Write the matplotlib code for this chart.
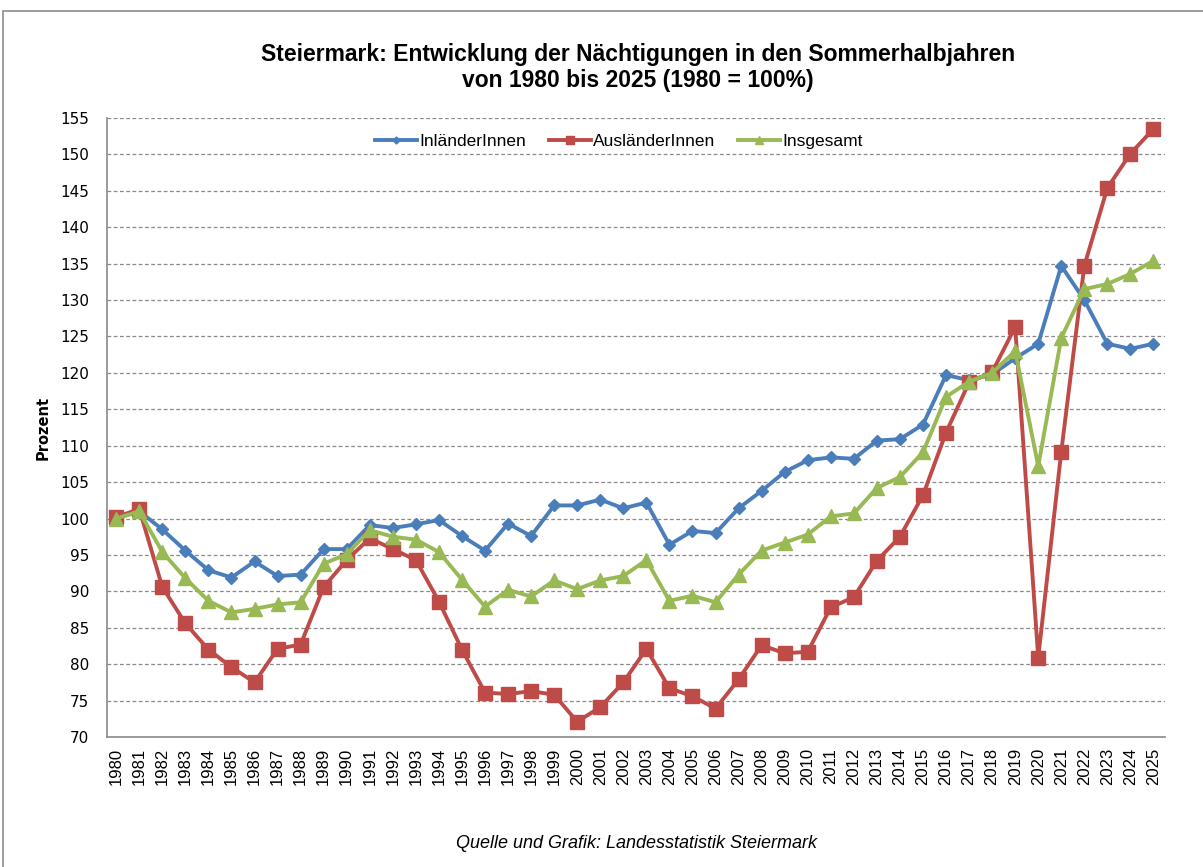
import matplotlib
matplotlib.use("Agg")
import matplotlib.pyplot as plt
from matplotlib.patches import Rectangle

years = list(range(1980, 2026))
inland = [100.0, 101.0, 98.5, 95.6, 92.9, 91.9, 94.1, 92.1, 92.3, 95.8,
          95.8, 99.1, 98.7, 99.2, 99.8, 97.6, 95.6, 99.3, 97.6, 101.8,
          101.8, 102.6, 101.4, 102.2, 96.4, 98.3, 98.0, 101.4, 103.8, 106.4,
          108.0, 108.4, 108.2, 110.7, 110.9, 112.9, 119.7, 119.0, 119.8, 122.0,
          124.0, 134.7, 130.0, 124.0, 123.3, 124.0]
ausland = [100.2, 101.3, 90.6, 85.6, 82.0, 79.6, 77.5, 82.1, 82.7, 90.6,
           94.3, 97.3, 95.8, 94.3, 88.6, 82.0, 76.1, 75.9, 76.3, 75.8,
           72.1, 74.1, 77.5, 82.1, 76.7, 75.6, 73.9, 77.9, 82.6, 81.5,
           81.7, 87.8, 89.2, 94.2, 97.5, 103.2, 111.8, 118.7, 120.1, 126.3,
           80.9, 109.2, 134.7, 145.4, 150.1, 153.5]
insgesamt = [100.0, 101.0, 95.4, 91.8, 88.7, 87.1, 87.6, 88.2, 88.5, 93.8,
             95.1, 98.4, 97.5, 97.1, 95.4, 91.6, 87.9, 90.2, 89.3, 91.5,
             90.3, 91.5, 92.1, 94.3, 88.7, 89.4, 88.5, 92.3, 95.6, 96.7,
             97.8, 100.3, 100.7, 104.2, 105.7, 109.1, 116.7, 118.8, 120.0, 123.0,
             107.2, 124.8, 131.5, 132.2, 133.6, 135.4]
series_names = ["InländerInnen", "AusländerInnen", "Insgesamt"]
yticks = list(range(70, 156, 5))

plt.rcParams['font.family'] = ['Liberation Sans', 'DejaVu Sans']

fig = plt.figure(figsize=(12.03, 8.67), dpi=100)
fig.patches.append(Rectangle((3/1203, -0.05), 1.1, 1 - 11/867 + 0.05,
                             transform=fig.transFigure, fill=False,
                             edgecolor='#8c8c8c', linewidth=1.2))
ax = fig.add_axes([107/1203, 1 - 737/867, (1165-107)/1203, (737-118)/867])

x = list(range(len(years)))
ax.plot(x, inland, color='#4A7EBB', lw=2.8, marker='D', ms=6.5,
        label=series_names[0], zorder=3)
ax.plot(x, ausland, color='#BE4B48', lw=2.8, marker='s', ms=10,
        label=series_names[1], zorder=4)
ax.plot(x, insgesamt, color='#98B954', lw=2.8, marker='^', ms=10,
        label=series_names[2], zorder=5)

ax.set_xlim(-0.4, len(years) - 0.5)
ax.set_ylim(70, 155)
ax.set_yticks(yticks)
ax.set_yticklabels([str(t) for t in yticks], fontsize=11, family='DejaVu Sans')
ax.set_xticks(x)
ax.set_xticklabels([str(y) for y in years], rotation=90, fontsize=12)
ax.yaxis.grid(True, linestyle=(0, (3, 2)), color='#8a8a8a', linewidth=0.9)
ax.set_axisbelow(True)
for s in ['top', 'right']:
    ax.spines[s].set_visible(False)
for s in ['left', 'bottom']:
    ax.spines[s].set_color('#8a8a8a')
    ax.spines[s].set_linewidth(1.2)
ax.tick_params(axis='y', length=0, pad=13)
ax.tick_params(axis='x', length=0, pad=8)
ax.set_ylabel("Prozent", fontsize=10.5, fontweight='bold', family='DejaVu Sans',
              labelpad=7)

leg = ax.legend(loc='upper center', bbox_to_anchor=(0.484, 1.0), ncol=3,
                frameon=False, fontsize=12.5, handlelength=2.4,
                columnspacing=1.3, handletextpad=0.15, markerscale=0.55)

fig.text(0.53, 1 - 55/867, "Steiermark: Entwicklung der Nächtigungen in den Sommerhalbjahren",
         ha='center', va='center', fontsize=16.5, fontweight='bold')
fig.text(0.53, 1 - 81/867, "von 1980 bis 2025 (1980 = 100%)",
         ha='center', va='center', fontsize=16.5, fontweight='bold')
fig.text(637/1203, 1 - 843/867, "Quelle und Grafik: Landesstatistik Steiermark",
         ha='center', va='center', fontsize=13, style='italic')

fig.savefig("out.png", dpi=100)
